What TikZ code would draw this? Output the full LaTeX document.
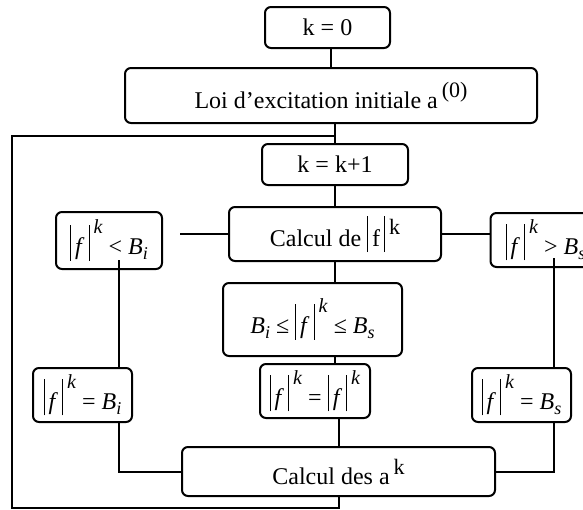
\documentclass[tikz,border=0pt]{standalone}
\usepackage{fontspec}
\setmainfont{Liberation Serif}
\usepackage{tikz}
\usetikzlibrary{positioning,calc}

\newcommand{\absbar}{\rule[-3pt]{0.5pt}{18pt}}
\newcommand{\supk}[3]{\raisebox{#1}{\fontsize{#2}{#2}\selectfont #3}}
\newcommand{\subx}[1]{\raisebox{-2.5pt}{\fontsize{9}{9}\selectfont\textit{#1}}}
\newcommand{\modfk}{\absbar\,\textit{f}\,\absbar\,\supk{10.5pt}{10}{\textit{k}}}

\begin{document}
\begin{tikzpicture}[x=0.5pt,y=-0.5pt,
    box/.style={draw, line width=1pt, rounded corners=3pt, inner sep=1pt,
      align=center, font=\fontsize{12}{14}\selectfont},
    link/.style={line width=1pt}]
    \useasboundingbox (0,0) rectangle (583,509);
    \clip (0,0) rectangle (583,509);

    \node[box, minimum width=62.5pt, minimum height=20.5pt] (init) at (327.5,27.5) {k = 0};
    \node[box, minimum width=206pt, minimum height=27.5pt] (loi) at (331,95.5)
        {Loi d’excitation initiale a\,\supk{5.5pt}{11}{(0)}};
    \node[box, minimum width=73pt, minimum height=20.5pt] (incr) at (335,164.5) {k = k+1};
    \node[box, minimum width=106pt, minimum height=27pt] (calc) at (335,234)
        {Calcul de \absbar\,f\,\absbar\,\supk{6pt}{11}{k}};

    \node[box, minimum width=53pt, minimum height=28.5pt] (inf) at (109,240.5) {\modfk\ < \textit{B}\subx{i}};
    \node[box, minimum width=55pt, minimum height=27pt] (sup) at (545.5,240) {\modfk\ > \textit{B}\subx{s}};
    \node[box, minimum width=89.5pt, minimum height=36.5pt] (betw) at (312.5,319.5)
        {\textit{B}\subx{i} ≤ \modfk\ ≤ \textit{B}\subx{s}};

    \node[box, minimum width=49.5pt, minimum height=27pt] (eqinf) at (82.5,395) {\modfk\ = \textit{B}\subx{i}};
    \node[box, minimum width=55pt, minimum height=27pt] (same) at (315,391) {\modfk\ = \modfk};
    \node[box, minimum width=49.5pt, minimum height=27pt] (eqsup) at (521.5,395) {\modfk\ = \textit{B}\subx{s}};

    \node[box, minimum width=156.5pt, minimum height=24.5pt] (coef) at (338.5,471.5)
        {Calcul des a\,\supk{5pt}{11}{k}};

    % loop back
    \coordinate (back) at (12,508);
    \coordinate (top) at (12,136);

    \draw[link] (loi.north) -- (loi.north |- init.south);
    \draw[link] (incr.north |- loi.south) -- (incr.north);
    \draw[link] (coef.south) |- (back) -- (top) -- (top -| incr.north);
    \draw[link] (incr) -- (calc);

    \draw[link, shorten >=8.5pt] (calc.west) -- (calc.west -| inf.east);
    \draw[link] (calc.east) -- (calc.east -| sup.west);
    \draw[link] (calc.south) -- (calc.south |- betw.north);
    \draw[link] (calc.south |- betw.south) -- (calc.south |- same.north);
    \draw[link] (coef.north |- same.south) -- (coef.north);

    \draw[link] ([xshift=5pt,yshift=5pt]inf.south) -- ([xshift=5pt]inf.south |- eqinf.north);
    \draw[link] ([xshift=5pt]inf.south |- eqinf.south) |- (coef.west);
    \draw[link] ([xshift=4.25pt,yshift=5pt]sup.south) -- ([xshift=4.25pt]sup.south |- eqsup.north);
    \draw[link] ([xshift=4.25pt]sup.south |- eqsup.south) |- (coef.east);
\end{tikzpicture}
\end{document}
